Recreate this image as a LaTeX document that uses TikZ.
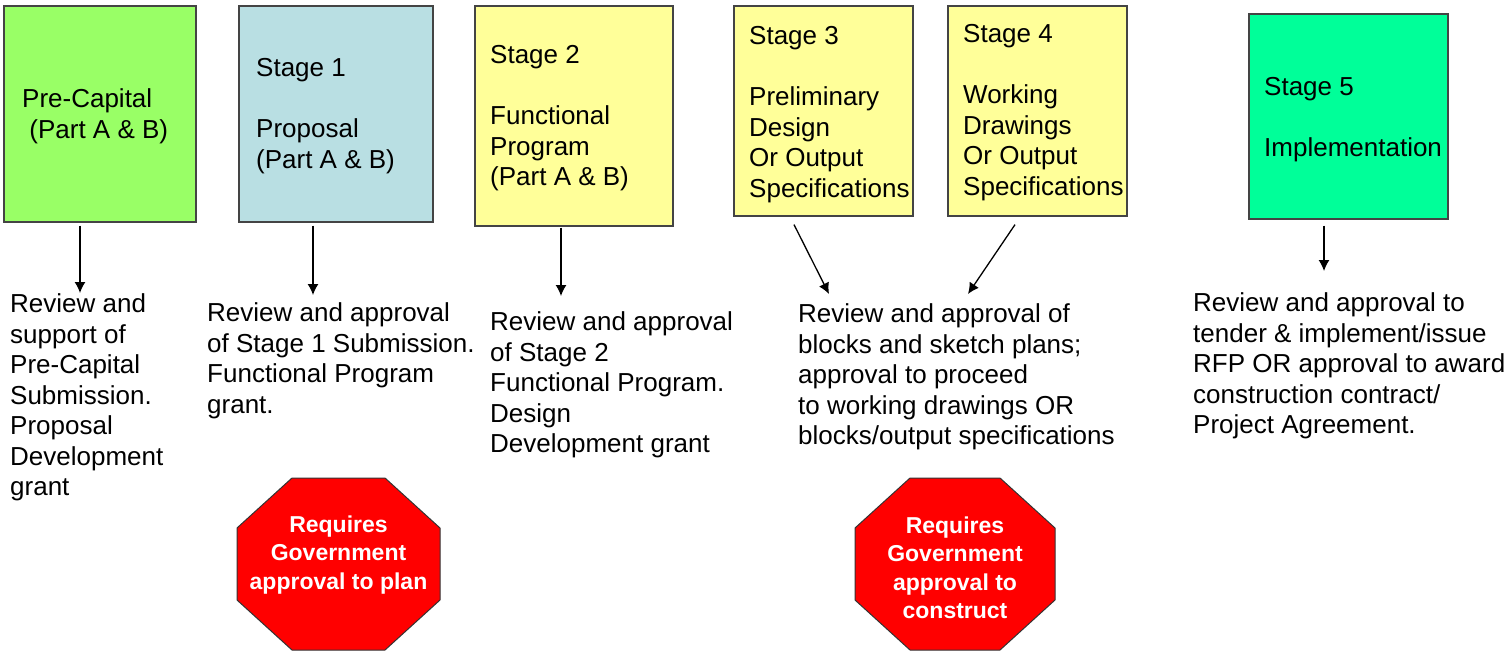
\documentclass[tikz,border=0pt]{standalone}
\usepackage{fontspec}
\setmainfont{Liberation Sans}
\usetikzlibrary{arrows.meta}
\definecolor{pcgreen}{HTML}{99FF66}
\definecolor{stblue}{HTML}{B9DFE3}
\definecolor{styellow}{HTML}{FFFF99}
\definecolor{stgreen}{HTML}{00FF99}
\definecolor{boxline}{HTML}{444444}
\definecolor{stopred}{HTML}{FF0000}
\begin{document}
\begin{tikzpicture}[x=1pt,y=-1pt,
  box/.style={draw=boxline, line width=1.6pt, inner sep=0pt, anchor=north west},
  txt/.style={anchor=north west, inner sep=0pt, align=left, font=\fontsize{26}{30.5}\selectfont},
  arr/.style={-{Latex[length=11pt,width=11pt]}, line width=1.3pt, black},
  stopsign/.style={fill=stopred, draw=black!80, line width=1pt},
  stoptxt/.style={inner sep=0pt, align=center, text=white, font=\fontsize{23}{28.5}\selectfont\bfseries}]
\useasboundingbox (0,0) rectangle (1504,659);

% boxes
\node[box, fill=pcgreen, minimum width=192pt, minimum height=216pt] (pc) at (3,5) {};
\node[box, fill=stblue, minimum width=194pt, minimum height=216pt] (s1) at (238,5) {};
\node[box, fill=styellow, minimum width=198pt, minimum height=220pt] (s2) at (474,5) {};
\node[box, fill=styellow, minimum width=179pt, minimum height=210pt] (s3) at (733,5) {};
\node[box, fill=styellow, minimum width=179pt, minimum height=210pt] (s4) at (947,5) {};
\node[box, fill=stgreen, minimum width=199pt, minimum height=205pt] (s5) at (1248,13) {};

% box texts
\node[txt] (pct) at (22,88.5) {Pre-Capital\\\ (Part A \& B)};
\node[txt] (s1t) at (256,58.5) {Stage 1\\[30.5pt]Proposal\\(Part A \& B)};
\node[txt] (s2t) at (490,45.5) {Stage 2\\[30.5pt]Functional\\Program\\(Part A \& B)};
\node[txt] (s3t) at (749,26.5) {Stage 3\\[30.5pt]Preliminary\\Design\\Or Output\\Specifications};
\node[txt] (s4t) at (963,24.5) {Stage 4\\[30.5pt]Working\\Drawings\\Or Output\\Specifications};
\node[txt] (s5t) at (1264,77.5) {Stage 5\\[30.5pt]Implementation};

% descriptions
\node[txt] (d0) at (10,293.5) {Review and\\support of\\Pre-Capital\\Submission.\\Proposal\\Development\\grant};
\node[txt] (d1) at (207,302.5) {Review and approval\\of Stage 1 Submission.\\Functional Program\\grant.};
\node[txt] (d2) at (490,311.5) {Review and approval\\of Stage 2\\Functional Program.\\Design\\Development grant};
\node[txt] (d3) at (798,303.5) {Review and approval of\\blocks and sketch plans;\\approval to proceed\\to working drawings OR\\blocks/output specifications};
\node[txt] (d5) at (1193,292.5) {Review and approval to\\tender \& implement/issue\\RFP OR approval to award\\construction contract/\\Project Agreement.};

% arrow tips
\coordinate (a0) at (80,293);
\coordinate (a1) at (313,295);
\coordinate (a2) at (561,296);
\coordinate (a3) at (829,294);
\coordinate (a4) at (968,294);
\coordinate (a5) at (1324,271);

\draw[arr, shorten <=3pt] (pc.south -| a0) -- (a0);
\draw[arr, shorten <=3pt] (s1.south -| a1) -- (a1);
\draw[arr, shorten <=1pt] (s2.south -| a2) -- (a2);
\draw[arr] (s3.south west) ++(61,8) -- (a3);
\draw[arr] (s4.south west) ++(68,8) -- (a4);
\draw[arr, shorten <=6pt] (s5.south -| a5) -- (a5);

% stop signs
\draw[stopsign] (292,478) -- (385,478) -- (440,528) -- (440,600) -- (385,650) -- (292,650) -- (237,600) -- (237,528) -- cycle;
\node[stoptxt] (stop1) at (338.5,555) {Requires\\Government\\approval to plan};
\draw[stopsign] (910,478) -- (1000,478) -- (1055,528) -- (1055,600) -- (1000,650) -- (910,650) -- (855,600) -- (855,528) -- cycle;
\node[stoptxt] (stop2) at (955,568) {Requires\\Government\\approval to\\construct};
\end{tikzpicture}
\end{document}
